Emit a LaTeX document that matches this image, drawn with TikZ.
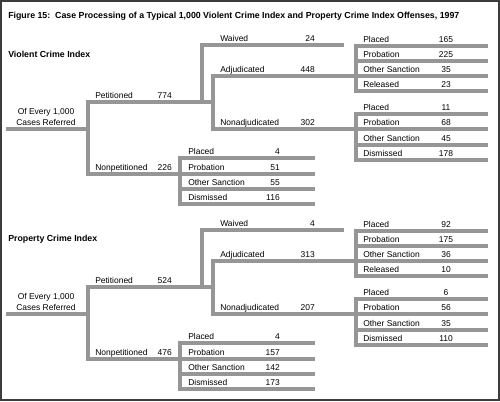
\documentclass[tikz,border=0pt]{standalone}
\usepackage{fontspec}
\setmainfont{Liberation Sans}

\tikzset{
	bar/.style={draw={rgb, 255:red, 150; green, 150; blue, 150 }, line width=3pt, line cap=rect, line join=miter},
	frame/.style={draw={rgb, 255:red, 60; green, 60; blue, 60 }, line width=1.5pt},
	lbl/.style={anchor=base west, inner sep=0pt, font=\fontsize{6.35}{7.5}\selectfont},
	num/.style={anchor=base east, inner sep=0pt, font=\fontsize{6.35}{7.5}\selectfont},
	numc/.style={anchor=base, inner sep=0pt, font=\fontsize{6.35}{7.5}\selectfont},
	root/.style={anchor=base, inner sep=0pt, font=\fontsize{6.35}{7.5}\selectfont},
	hdr/.style={anchor=base west, inner sep=0pt, font=\fontsize{6.6}{8}\selectfont\bfseries},
}

\begin{document}
\begin{tikzpicture}[x=0.75pt,y=0.75pt,yscale=-1,xscale=1]
				\path[use as bounding box] (0,0) rectangle (500,401);
				
				%Shape: Frame
				\draw[frame] (1,1) rectangle (499,400);
				% Text Node
				\node[hdr] (fig) at (8,18) {Figure 15:\ \ Case Processing of a Typical 1,000 Violent Crime Index and Property Crime Index Offenses, 1997};
				
				%%% Violent Crime Index
				\node[hdr] (vHead) at (8,57) {Violent Crime Index};
				
				\coordinate (vRoot) at (8,129);
				\coordinate (vFork) at (88,129);
				\coordinate (vPet) at (88,102);
				\coordinate (vNonpet) at (88,174);
				\coordinate (vPetEnd) at (213,102);
				\coordinate (vWaiveFork) at (202,102);
				\coordinate (vWaivedEnd) at (342,45);
				\coordinate (vAdj) at (213,76);
				\coordinate (vNonadj) at (213,129);
				% adjudicated rows
				\coordinate (vA1) at (356,46);  \coordinate (vA1e) at (486,46);
				\coordinate (vA2) at (356,61);  \coordinate (vA2e) at (486,61);
				\coordinate (vA3) at (356,76);  \coordinate (vA3e) at (486,76);
				\coordinate (vA4) at (356,91);  \coordinate (vA4e) at (486,91);
				% nonadjudicated rows
				\coordinate (vN1) at (356,114); \coordinate (vN1e) at (486,114);
				\coordinate (vN2) at (356,129); \coordinate (vN2e) at (486,129);
				\coordinate (vN3) at (356,145); \coordinate (vN3e) at (486,145);
				\coordinate (vN4) at (356,160); \coordinate (vN4e) at (486,160);
				% nonpetitioned rows
				\coordinate (vP1) at (180,158); \coordinate (vP1e) at (313,158);
				\coordinate (vP2) at (180,174); \coordinate (vP2e) at (313,174);
				\coordinate (vP3) at (180,189); \coordinate (vP3e) at (313,189);
				\coordinate (vP4) at (180,204); \coordinate (vP4e) at (313,204);
				
				%Shape: Bars
				\draw[bar] (vRoot) -- (vFork);
				\draw[bar] (vPet) -- (vNonpet);
				\draw[bar] (vPet) -- (vPetEnd);
				\draw[bar] (vWaiveFork) |- (vWaivedEnd);
				\draw[bar] (vAdj) -- (vNonadj);
				\draw[bar] (vAdj) -- (vA3);
				\draw[bar] (vNonadj) -- (vN2);
				\draw[bar] (vNonpet) -- (vP2);
				\draw[bar] (vA1) -- (vA4);
				\draw[bar] (vA1) -- (vA1e);
				\draw[bar] (vA2) -- (vA2e);
				\draw[bar] (vA3) -- (vA3e);
				\draw[bar] (vA4) -- (vA4e);
				\draw[bar] (vN1) -- (vN4);
				\draw[bar] (vN1) -- (vN1e);
				\draw[bar] (vN2) -- (vN2e);
				\draw[bar] (vN3) -- (vN3e);
				\draw[bar] (vN4) -- (vN4e);
				\draw[bar] (vP1) -- (vP4);
				\draw[bar] (vP1) -- (vP1e);
				\draw[bar] (vP2) -- (vP2e);
				\draw[bar] (vP3) -- (vP3e);
				\draw[bar] (vP4) -- (vP4e);
				
				% Text Node
				\node[root] (vRootA) at (46,114.5) {Of Every 1,000};
				\node[root] (vRootB) at (46,125.5) {Cases Referred};
				\node[lbl] (vPetLbl) at (95,98.5) {Petitioned};
				\node[num] (vPetNum) at (172,98.5) {774};
				\node[lbl] (vNonpetLbl) at (95,170.5) {Nonpetitioned};
				\node[num] (vNonpetNum) at (172,170.5) {226};
				\node[lbl] (vWaivedLbl) at (220,41.5) {Waived};
				\node[num] (vWaivedNum) at (315,41.5) {24};
				\node[lbl] (vAdjLbl) at (220,72) {Adjudicated};
				\node[num] (vAdjNum) at (315,72) {448};
				\node[lbl] (vNonadjLbl) at (220,125) {Nonadjudicated};
				\node[num] (vNonadjNum) at (315,125) {302};
				% Text Node
				\node[lbl] (vA1Lbl) at (363,42.5) {Placed};
				\node[numc] (vA1Num) at (446,42.5) {165};
				\node[lbl] (vA2Lbl) at (363,57.5) {Probation};
				\node[numc] (vA2Num) at (446,57.5) {225};
				\node[lbl] (vA3Lbl) at (363,72.5) {Other Sanction};
				\node[numc] (vA3Num) at (446,72.5) {35};
				\node[lbl] (vA4Lbl) at (363,87.5) {Released};
				\node[numc] (vA4Num) at (446,87.5) {23};
				% Text Node
				\node[lbl] (vN1Lbl) at (363,110.5) {Placed};
				\node[numc] (vN1Num) at (446,110.5) {11};
				\node[lbl] (vN2Lbl) at (363,125.5) {Probation};
				\node[numc] (vN2Num) at (446,125.5) {68};
				\node[lbl] (vN3Lbl) at (363,141.5) {Other Sanction};
				\node[numc] (vN3Num) at (446,141.5) {45};
				\node[lbl] (vN4Lbl) at (363,156.5) {Dismissed};
				\node[numc] (vN4Num) at (446,156.5) {178};
				% Text Node
				\node[lbl] (vP1Lbl) at (188,154.5) {Placed};
				\node[num] (vP1Num) at (280,154.5) {4};
				\node[lbl] (vP2Lbl) at (188,170.5) {Probation};
				\node[num] (vP2Num) at (280,170.5) {51};
				\node[lbl] (vP3Lbl) at (188,185.5) {Other Sanction};
				\node[num] (vP3Num) at (280,185.5) {55};
				\node[lbl] (vP4Lbl) at (188,200.5) {Dismissed};
				\node[num] (vP4Num) at (280,200.5) {116};
				
				%%% Property Crime Index
				\node[hdr] (pHead) at (8,241) {Property Crime Index};
				
				\coordinate (pRoot) at (8,314);
				\coordinate (pFork) at (88,314);
				\coordinate (pPet) at (88,287);
				\coordinate (pNonpet) at (88,359);
				\coordinate (pPetEnd) at (213,287);
				\coordinate (pWaiveFork) at (202,287);
				\coordinate (pWaivedEnd) at (342,230);
				\coordinate (pAdj) at (213,261);
				\coordinate (pNonadj) at (213,314);
				% adjudicated rows
				\coordinate (pA1) at (356,231); \coordinate (pA1e) at (486,231);
				\coordinate (pA2) at (356,246); \coordinate (pA2e) at (486,246);
				\coordinate (pA3) at (356,261); \coordinate (pA3e) at (486,261);
				\coordinate (pA4) at (356,276); \coordinate (pA4e) at (486,276);
				% nonadjudicated rows
				\coordinate (pN1) at (356,299); \coordinate (pN1e) at (486,299);
				\coordinate (pN2) at (356,314); \coordinate (pN2e) at (486,314);
				\coordinate (pN3) at (356,330); \coordinate (pN3e) at (486,330);
				\coordinate (pN4) at (356,345); \coordinate (pN4e) at (486,345);
				% nonpetitioned rows
				\coordinate (pP1) at (180,343); \coordinate (pP1e) at (313,343);
				\coordinate (pP2) at (180,359); \coordinate (pP2e) at (313,359);
				\coordinate (pP3) at (180,374); \coordinate (pP3e) at (313,374);
				\coordinate (pP4) at (180,389); \coordinate (pP4e) at (313,389);
				
				%Shape: Bars
				\draw[bar] (pRoot) -- (pFork);
				\draw[bar] (pPet) -- (pNonpet);
				\draw[bar] (pPet) -- (pPetEnd);
				\draw[bar] (pWaiveFork) |- (pWaivedEnd);
				\draw[bar] (pAdj) -- (pNonadj);
				\draw[bar] (pAdj) -- (pA3);
				\draw[bar] (pNonadj) -- (pN2);
				\draw[bar] (pNonpet) -- (pP2);
				\draw[bar] (pA1) -- (pA4);
				\draw[bar] (pA1) -- (pA1e);
				\draw[bar] (pA2) -- (pA2e);
				\draw[bar] (pA3) -- (pA3e);
				\draw[bar] (pA4) -- (pA4e);
				\draw[bar] (pN1) -- (pN4);
				\draw[bar] (pN1) -- (pN1e);
				\draw[bar] (pN2) -- (pN2e);
				\draw[bar] (pN3) -- (pN3e);
				\draw[bar] (pN4) -- (pN4e);
				\draw[bar] (pP1) -- (pP4);
				\draw[bar] (pP1) -- (pP1e);
				\draw[bar] (pP2) -- (pP2e);
				\draw[bar] (pP3) -- (pP3e);
				\draw[bar] (pP4) -- (pP4e);
				
				% Text Node
				\node[root] (pRootA) at (46,299.5) {Of Every 1,000};
				\node[root] (pRootB) at (46,310.5) {Cases Referred};
				\node[lbl] (pPetLbl) at (95,283.5) {Petitioned};
				\node[num] (pPetNum) at (172,283.5) {524};
				\node[lbl] (pNonpetLbl) at (95,355.5) {Nonpetitioned};
				\node[num] (pNonpetNum) at (172,355.5) {476};
				\node[lbl] (pWaivedLbl) at (220,226.5) {Waived};
				\node[num] (pWaivedNum) at (315,226.5) {4};
				\node[lbl] (pAdjLbl) at (220,257) {Adjudicated};
				\node[num] (pAdjNum) at (315,257) {313};
				\node[lbl] (pNonadjLbl) at (220,310) {Nonadjudicated};
				\node[num] (pNonadjNum) at (315,310) {207};
				% Text Node
				\node[lbl] (pA1Lbl) at (363,227.5) {Placed};
				\node[numc] (pA1Num) at (446,227.5) {92};
				\node[lbl] (pA2Lbl) at (363,242.5) {Probation};
				\node[numc] (pA2Num) at (446,242.5) {175};
				\node[lbl] (pA3Lbl) at (363,257.5) {Other Sanction};
				\node[numc] (pA3Num) at (446,257.5) {36};
				\node[lbl] (pA4Lbl) at (363,272.5) {Released};
				\node[numc] (pA4Num) at (446,272.5) {10};
				% Text Node
				\node[lbl] (pN1Lbl) at (363,295.5) {Placed};
				\node[numc] (pN1Num) at (446,295.5) {6};
				\node[lbl] (pN2Lbl) at (363,310.5) {Probation};
				\node[numc] (pN2Num) at (446,310.5) {56};
				\node[lbl] (pN3Lbl) at (363,326.5) {Other Sanction};
				\node[numc] (pN3Num) at (446,326.5) {35};
				\node[lbl] (pN4Lbl) at (363,341.5) {Dismissed};
				\node[numc] (pN4Num) at (446,341.5) {110};
				% Text Node
				\node[lbl] (pP1Lbl) at (188,339.5) {Placed};
				\node[num] (pP1Num) at (280,339.5) {4};
				\node[lbl] (pP2Lbl) at (188,355.5) {Probation};
				\node[num] (pP2Num) at (280,355.5) {157};
				\node[lbl] (pP3Lbl) at (188,370.5) {Other Sanction};
				\node[num] (pP3Num) at (280,370.5) {142};
				\node[lbl] (pP4Lbl) at (188,385.5) {Dismissed};
				\node[num] (pP4Num) at (280,385.5) {173};
				
			\end{tikzpicture}
\end{document}
